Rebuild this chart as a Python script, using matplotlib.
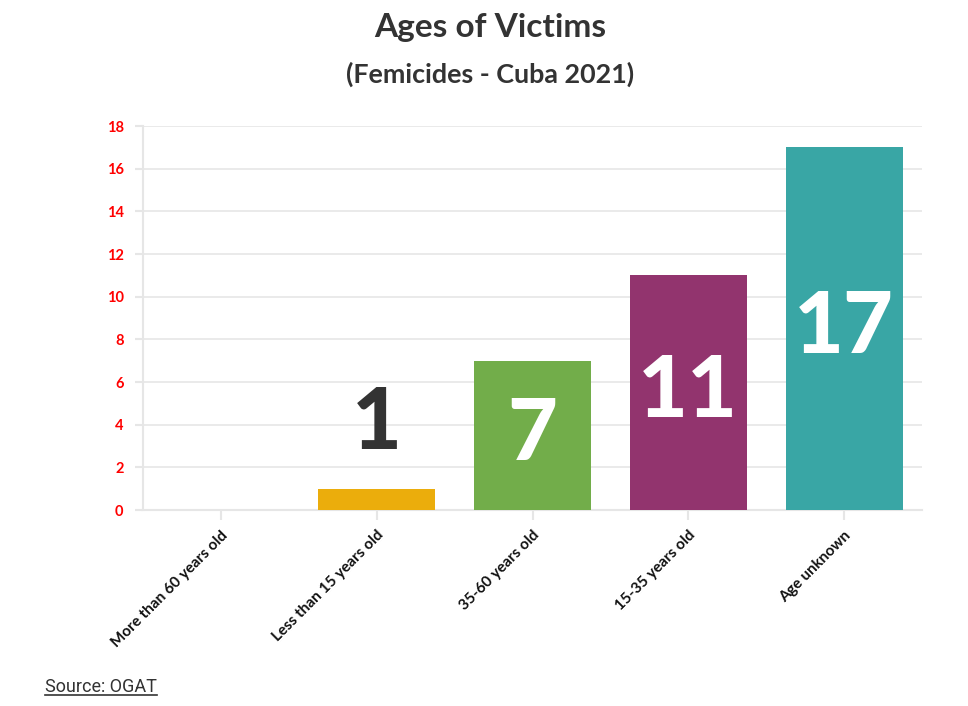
import matplotlib.pyplot as plt
from matplotlib.lines import Line2D

# ---------- data ----------
categories = ["More than 60 years old", "Less than 15 years old",
              "35-60 years old", "15-35 years old", "Age unknown"]
victims = [0, 1, 7, 11, 17]
bar_colors = ["#e8a33c", "#ebad0c", "#72ad4a", "#92346e", "#39a6a5"]

FONT = ["Lato", "DejaVu Sans"]

fig = plt.figure(figsize=(9.68, 7.06), dpi=100)
ax = fig.add_axes([143 / 968, 1 - 510 / 706, 779 / 968, 384 / 706])

x = list(range(len(categories)))
ax.bar(x, victims, width=0.75, color=bar_colors, zorder=3)

ax.set_xlim(-0.5, len(categories) - 0.5)
ax.set_ylim(0, 18)
ax.set_yticks(range(0, 19, 2))
ax.grid(axis="y", color="#e6e6e6", linewidth=1.2, zorder=0)
ax.set_axisbelow(True)

for s in ["top", "right"]:
    ax.spines[s].set_visible(False)
for s in ["left", "bottom"]:
    ax.spines[s].set_color("#e6e6e6")
    ax.spines[s].set_linewidth(1.5)

ax.tick_params(axis="y", colors="#e6e6e6", length=6, width=1.5, labelcolor="red", pad=8)
ax.tick_params(axis="x", colors="#e6e6e6", length=7, width=1.5, labelcolor="#111111", pad=6)
for lbl in ax.get_yticklabels():
    lbl.set_fontfamily(FONT)
    lbl.set_fontweight("bold")
    lbl.set_fontsize(10.5)

ax.set_xticks(x)
ax.set_xticklabels(categories, rotation=45, ha="right", va="top",
                   rotation_mode="anchor", fontsize=11, fontweight="bold",
                   family=FONT)

# value labels
for xi, v in zip(x, victims):
    if v == 0:
        continue
    if v < 3:
        ax.text(xi, 4.0, str(v), ha="center", va="center", color="#333333",
                fontsize=62, fontweight="black", family=FONT, zorder=4)
    else:
        ax.text(xi, v / 2, str(v), ha="center", va="center", color="white",
                fontsize=62, fontweight="black", family=FONT, zorder=4)

# titles
fig.text(490 / 968, 1 - 28 / 706, "Ages of Victims", ha="center", va="center",
         fontsize=24, fontweight="bold", color="#333333", family=FONT)
fig.text(490 / 968, 1 - 74 / 706, "(Femicides - Cuba 2021)", ha="center", va="center",
         fontsize=19.4, fontweight="bold", color="#333333", family=FONT)

# source with underline
src = fig.text(45 / 968, 1 - 687 / 706, "Source: OGAT", ha="left", va="center",
               fontsize=13, color="#333333", family=["Roboto", "DejaVu Sans"])
fig.canvas.draw()
bb = src.get_window_extent().transformed(fig.transFigure.inverted())
fig.add_artist(Line2D([bb.x0, bb.x1], [bb.y0 + 0.001, bb.y0 + 0.001],
                      transform=fig.transFigure, color="#333333", linewidth=1.2))

fig.savefig("out.png", dpi=100, facecolor="white")
